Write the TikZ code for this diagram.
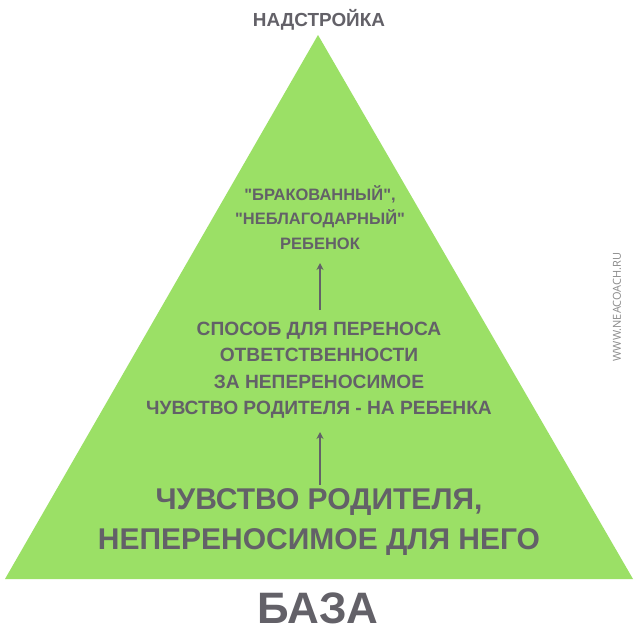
\documentclass[tikz,border=0pt]{standalone}
\usepackage{fontspec}
\newfontfamily\lsans{Liberation Sans}
\newfontfamily\osans{Open Sans}
\usetikzlibrary{arrows.meta}
\definecolor{pgreen}{HTML}{9BE066}
\definecolor{ptext}{HTML}{636168}
\definecolor{pweb}{HTML}{8A8A8A}
\tikzset{
  lbl/.style={text=ptext, align=center, inner sep=0pt},
  arr/.style={draw=ptext, line width=1.3pt, -{Stealth[length=7pt,width=7pt]}},
}
\begin{document}
\begin{tikzpicture}[x=1pt,y=-1pt]
\useasboundingbox (0,0) rectangle (640,640);
\fill[white] (0,0) rectangle (640,640);
\fill[pgreen] (318,35) -- (633,579) -- (5,579) -- cycle;
\node[lbl, font=\lsans\bfseries\fontsize{18.9}{20}\selectfont] (top) at (319,20) {НАДСТРОЙКА};
\node[lbl, font=\lsans\bfseries\fontsize{16.5}{24.5}\selectfont] (child) at (320,217.5) {"БРАКОВАННЫЙ",\\"НЕБЛАГОДАРНЫЙ"\\РЕБЕНОК};
\node[lbl, font=\lsans\bfseries\fontsize{19.2}{26.5}\selectfont] (way) at (319,370) {СПОСОБ ДЛЯ ПЕРЕНОСА\\ОТВЕТСТВЕННОСТИ\\ЗА НЕПЕРЕНОСИМОЕ\\ЧУВСТВО РОДИТЕЛЯ - НА РЕБЕНКА};
\node[lbl, font=\lsans\bfseries\fontsize{30}{40}\selectfont] (feel) at (319,522) {ЧУВСТВО РОДИТЕЛЯ,\\НЕПЕРЕНОСИМОЕ ДЛЯ НЕГО};
\node[lbl, font=\lsans\bfseries\fontsize{44}{50}\selectfont] (base) at (318,608) {БАЗА};
\node[text=pweb, font=\osans\fontsize{11}{12}\selectfont, rotate=90, inner sep=0pt] (web) at (617,307) {WWW.NEACOACH.RU};
\coordinate (a1s) at (320,310);
\coordinate (a1e) at (320,263);
\coordinate (a2s) at (320,485);
\coordinate (a2e) at (320,432);
\draw[arr] (a1s) -- (a1e);
\draw[arr] (a2s) -- (a2e);
\end{tikzpicture}
\end{document}
